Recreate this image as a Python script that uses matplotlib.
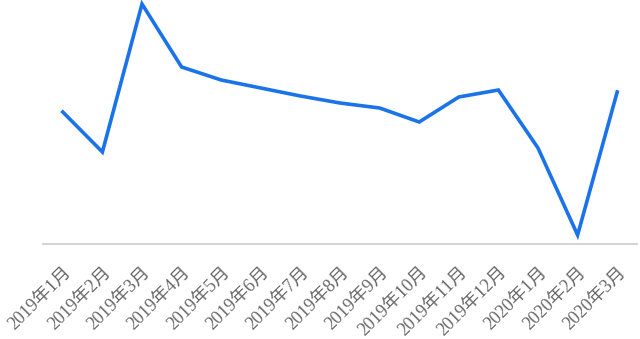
import matplotlib.pyplot as plt

months = ["2019年1月", "2019年2月", "2019年3月", "2019年4月", "2019年5月",
          "2019年6月", "2019年7月", "2019年8月", "2019年9月", "2019年10月",
          "2019年11月", "2019年12月", "2020年1月", "2020年2月", "2020年3月"]
values = [132, 92, 240, 177, 164, 156, 148, 141, 136, 122, 147, 154, 96, 9, 152]

plt.rcParams['font.family'] = ['Liberation Serif', 'Noto Sans CJK SC']

fig = plt.figure(figsize=(6.4, 3.39), dpi=100)
ax = fig.add_axes([43 / 640, 95 / 339, 594 / 640, 244 / 339])

x = range(len(months))
ax.plot(x, values, color='#1a73e8', linewidth=2.6, solid_joinstyle='miter')

ax.set_xlim(-0.5, len(months) - 0.5)
ax.set_ylim(0, 244)
ax.set_xticks(list(x))
ax.set_xticklabels(months, rotation=45, ha='right', rotation_mode='anchor',
                   fontsize=13, color='#666666', fontweight='light')
ax.tick_params(axis='x', length=0, pad=14)
ax.set_yticks([])

for side in ['top', 'right', 'left']:
    ax.spines[side].set_visible(False)
ax.spines['bottom'].set_color('#d0d0d0')
ax.spines['bottom'].set_linewidth(1.3)

fig.savefig('out.png', dpi=100)
